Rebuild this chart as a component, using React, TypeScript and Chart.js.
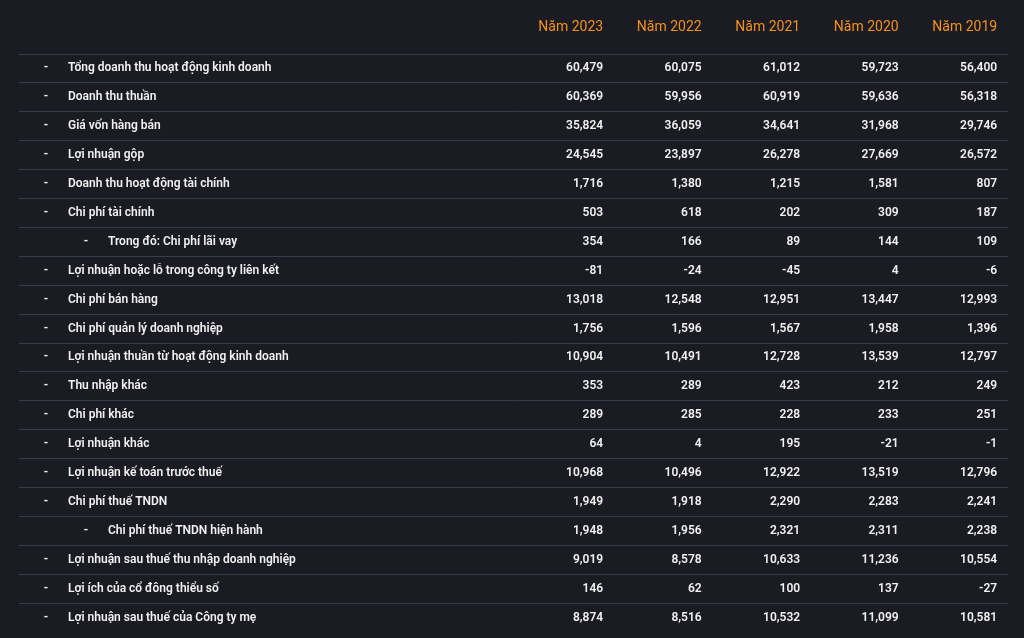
import React, { useEffect, useRef } from "react";
import { Chart, registerables } from "chart.js";

Chart.register(...registerables);

const YEARS = ["Năm 2023", "Năm 2022", "Năm 2021", "Năm 2020", "Năm 2019"];

const ROW_LABELS = [
  "Tổng doanh thu hoạt động kinh doanh",
  "Doanh thu thuần",
  "Giá vốn hàng bán",
  "Lợi nhuận gộp",
  "Doanh thu hoạt động tài chính",
  "Chi phí tài chính",
  "Trong đó: Chi phí lãi vay",
  "Lợi nhuận hoặc lỗ trong công ty liên kết",
  "Chi phí bán hàng",
  "Chi phí quản lý doanh nghiệp",
  "Lợi nhuận thuần từ hoạt động kinh doanh",
  "Thu nhập khác",
  "Chi phí khác",
  "Lợi nhuận khác",
  "Lợi nhuận kế toán trước thuế",
  "Chi phí thuế TNDN",
  "Chi phí thuế TNDN hiện hành",
  "Lợi nhuận sau thuế thu nhập doanh nghiệp",
  "Lợi ích của cổ đông thiểu số",
  "Lợi nhuận sau thuế của Công ty mẹ",
];

const ROW_LEVEL = [0, 0, 0, 0, 0, 0, 1, 0, 0, 0, 0, 0, 0, 0, 0, 0, 1, 0, 0, 0];

const Y2023 = [60479, 60369, 35824, 24545, 1716, 503, 354, -81, 13018, 1756, 10904, 353, 289, 64, 10968, 1949, 1948, 9019, 146, 8874];
const Y2022 = [60075, 59956, 36059, 23897, 1380, 618, 166, -24, 12548, 1596, 10491, 289, 285, 4, 10496, 1918, 1956, 8578, 62, 8516];
const Y2021 = [61012, 60919, 34641, 26278, 1215, 202, 89, -45, 12951, 1567, 12728, 423, 228, 195, 12922, 2290, 2321, 10633, 100, 10532];
const Y2020 = [59723, 59636, 31968, 27669, 1581, 309, 144, 4, 13447, 1958, 13539, 212, 233, -21, 13519, 2283, 2311, 11236, 137, 11099];
const Y2019 = [56400, 56318, 29746, 26572, 807, 187, 109, -6, 12993, 1396, 12797, 249, 251, -1, 12796, 2241, 2238, 10554, -27, 10581];

const SERIES = [Y2023, Y2022, Y2021, Y2020, Y2019];

const BG = "#1a1b23";
const LINE = "#3b3c48";
const TEXT = "#f1f1f1";
const ORANGE = "#f5921b";
const FONT = "Roboto, 'Noto Sans', sans-serif";

const fmt = (v: number) => v.toLocaleString("en-US");

const tablePlugin = {
  id: "tableText",
  afterDatasetsDraw(chart: any) {
    const ctx = chart.ctx;
    const yScale = chart.scales.y;
    const left = chart.chartArea.left;
    ctx.save();
    ctx.fillStyle = TEXT;
    ctx.textBaseline = "middle";
    // row labels
    ctx.font = `600 12px ${FONT}`;
    ROW_LABELS.forEach((label, i) => {
      const y = yScale.getPixelForValue(i);
      const lvl = ROW_LEVEL[i];
      ctx.textAlign = "center";
      ctx.fillText("-", left + 27 + lvl * 40, y);
      ctx.textAlign = "left";
      ctx.fillText(label, left + 49 + lvl * 40, y);
    });
    // values
    ctx.font = `600 12px ${FONT}`;
    ctx.textAlign = "right";
    SERIES.forEach((vals, j) => {
      const meta = chart.getDatasetMeta(j);
      meta.data.forEach((pt: any, i: number) => {
        ctx.fillText(fmt(vals[i]), pt.x, pt.y);
      });
    });
    ctx.restore();
  },
};

export default function App() {
  const ref = useRef<HTMLCanvasElement | null>(null);

  useEffect(() => {
    document.body.style.margin = "0";
    document.body.style.background = BG;
    const canvas = ref.current;
    if (!canvas) return;
    const chart = new Chart(canvas, {
      type: "scatter",
      data: {
        labels: ROW_LABELS,
        datasets: SERIES.map((vals, j) => ({
          label: YEARS[j],
          data: vals.map((_, i) => ({ x: 6 + j, y: i })),
          pointRadius: 0,
          pointHoverRadius: 0,
        })),
      },
      options: {
        animation: false,
        responsive: false,
        events: [],
        layout: { padding: { top: 0, left: 19, right: 16, bottom: 6 } },
        plugins: {
          legend: { display: false },
          tooltip: { enabled: false },
        },
        scales: {
          x: {
            type: "linear",
            position: "top",
            min: 0.07,
            max: 10.11,
            afterBuildTicks: (scale: any) => {
              scale.ticks = YEARS.map((_, j) => ({ value: 6 + j }));
            },
            grid: { display: false, drawTicks: false },
            border: { display: false },
            ticks: {
              autoSkip: false,
              maxRotation: 0,
              align: "end",
              padding: 18.6,
              color: ORANGE,
              font: { family: FONT, size: 14, weight: "400" },
              callback: (v: any) => YEARS[Number(v) - 6],
            },
          },
          y: {
            type: "category",
            labels: ROW_LABELS,
            offset: true,
            grid: {
              offset: true,
              drawTicks: false,
              lineWidth: 1,
              color: (c: any) => (c.tick ? LINE : "transparent"),
            },
            border: { display: false },
            ticks: { display: false },
          },
        },
      },
      plugins: [tablePlugin],
    });
    return () => chart.destroy();
  }, []);

  return (
    <div style={{ position: "fixed", left: 0, top: 0, width: 1024, height: 638, background: BG }}>
      <canvas ref={ref} width={1024} height={638} style={{ display: "block" }} />
    </div>
  );
}
